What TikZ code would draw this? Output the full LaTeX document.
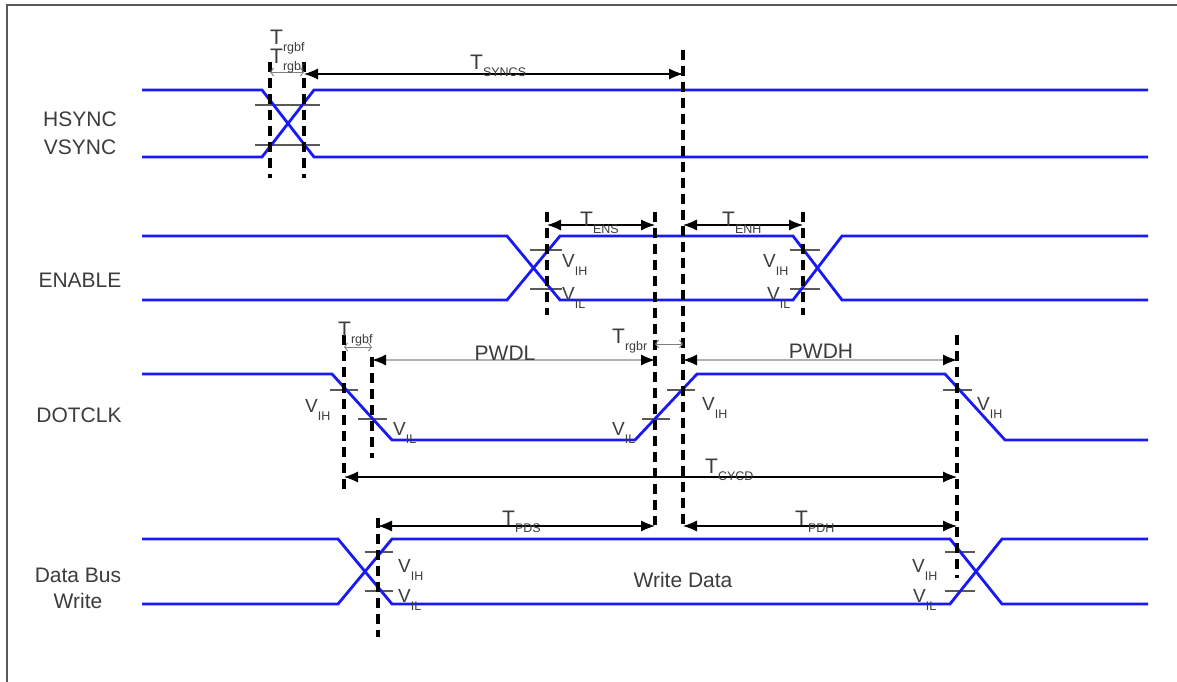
\documentclass[tikz,border=0pt]{standalone}
\usepackage{fontspec}
\setmainfont{Liberation Sans}
\usetikzlibrary{arrows.meta}
\definecolor{sig}{RGB}{25,25,245}
\definecolor{txt}{RGB}{60,60,60}
\newcommand\Vlab[1]{\fontsize{19}{19}\selectfont V\raisebox{-8pt}{\fontsize{12.5}{12.5}\selectfont #1}}
\newcommand\Tlab[1]{\fontsize{21}{21}\selectfont T\raisebox{-7pt}{\fontsize{12.5}{12.5}\selectfont #1}}
\begin{document}
\begin{tikzpicture}[x=1pt,y=-1pt,
  sigline/.style={draw=sig, line width=2.8pt, line join=miter},
  vdash/.style={draw=black, line width=3.2pt, dash pattern=on 10pt off 6pt},
  tick/.style={draw=gray!70!black, line width=1.2pt},
  dim/.style={draw=black, line width=1.1pt, {Latex[length=14pt,width=11pt]}-{Latex[length=14pt,width=11pt]}},
  dimg/.style={draw=gray!60, line width=1.3pt, {Latex[length=14pt,width=11pt,color=black]}-{Latex[length=14pt,width=11pt,color=black]}},
  smallarr/.style={draw=gray, line width=0.9pt, {Straight Barb[length=3pt,width=8pt]}-{Straight Barb[length=3pt,width=8pt]}},
  lbl/.style={anchor=base west, inner sep=0pt, text=txt},
  cname/.style={anchor=base, inner sep=0pt, text=txt, font=\fontsize{21}{21}\selectfont}]
\useasboundingbox (0,0) rectangle (1177,682);
% frame
\draw[gray!70!black, line width=2pt] (7,682) -- (7,5) -- (1177,5);

% signal names
\node[cname] (hs) at (80,127) {HSYNC};
\node[cname] (vs) at (80,154) {VSYNC};
\node[cname] (en) at (80,287) {ENABLE};
\node[cname] (dc) at (79,422) {DOTCLK};
\node[cname] (db) at (78,582) {Data Bus};
\node[cname] (wr) at (78,608) {Write};

% threshold ticks
\draw[tick] (255,105) -- (320,105);
\draw[tick] (255,145) -- (320,145);
\draw[tick] (530,250) -- (562,250);
\draw[tick] (530,289) -- (562,289);
\draw[tick] (790,250) -- (820,250);
\draw[tick] (790,289) -- (820,289);
\draw[tick] (330,390) -- (358,390);
\draw[tick] (358,419) -- (387,419);
\draw[tick] (642,419) -- (670,419);
\draw[tick] (667,390) -- (695,390);
\draw[tick] (943,390) -- (972,390);
\draw[tick] (365,552) -- (393,552);
\draw[tick] (365,591) -- (393,591);
\draw[tick] (945,552) -- (975,552);
\draw[tick] (945,591) -- (975,591);

% signals
\draw[sigline] (142,90) -- (262,90) -- (314,157) -- (1148,157);
\draw[sigline] (142,157) -- (262,157) -- (314,90) -- (1148,90);
\draw[sigline] (142,236) -- (507,236) -- (560,300) -- (793,300) -- (842,236) -- (1148,236);
\draw[sigline] (142,300) -- (507,300) -- (560,236) -- (793,236) -- (842,300) -- (1148,300);
\draw[sigline] (142,374) -- (332,374) -- (392,440) -- (635,440) -- (697,374) -- (945,374) -- (1005,440) -- (1148,440);
\draw[sigline] (142,539) -- (338,539) -- (392,604) -- (950,604) -- (1002,539) -- (1148,539);
\draw[sigline] (142,604) -- (338,604) -- (392,539) -- (950,539) -- (1002,604) -- (1148,604);

% dashed reference lines
\draw[vdash] (270,62) -- (270,178);
\draw[vdash] (304,62) -- (304,178);
\draw[vdash] (683,50) -- (683,525);
\draw[vdash] (655,212) -- (655,525);
\draw[vdash] (547,212) -- (547,315);
\draw[vdash] (803,212) -- (803,315);
\draw[vdash] (344,335) -- (344,490);
\draw[vdash] (372,357) -- (372,458);
\draw[vdash] (957,335) -- (957,578);
\draw[vdash] (378,518) -- (378,637);

% dimension coordinates
\coordinate (s1) at (270,72); \coordinate (s2) at (304,72);
\coordinate (y1) at (304,74); \coordinate (y2) at (683,74);
\coordinate (e1) at (547,225); \coordinate (e2) at (655,225);
\coordinate (e3) at (683,225); \coordinate (e4) at (803,225);
\coordinate (r1) at (344,347); \coordinate (r2) at (372,347);
\coordinate (r3) at (655,344); \coordinate (r4) at (683,344);
\coordinate (p1) at (372,360); \coordinate (p2) at (655,360);
\coordinate (p3) at (683,360); \coordinate (p4) at (957,360);
\coordinate (c1) at (344,477); \coordinate (c2) at (957,477);
\coordinate (d1) at (378,526); \coordinate (d2) at (655,526);
\coordinate (d3) at (683,526); \coordinate (d4) at (957,526);

\draw[smallarr] (s1) -- (s2);
\draw[dim] (y1) -- (y2);
\draw[dim] (e1) -- (e2);
\draw[dim] (e3) -- (e4);
\draw[smallarr] (r1) -- (r2);
\draw[smallarr] (r3) -- (r4);
\draw[dimg] (p1) -- (p2);
\draw[dimg] (p3) -- (p4);
\draw[dim] (c1) -- (c2);
\draw[dim] (d1) -- (d2);
\draw[dim] (d3) -- (d4);

% timing labels
\node[lbl] (t1) at (270,45) {\Tlab{rgbf}};
\node[lbl] (t2) at (270,64) {\Tlab{rgbr}};
\node[lbl] (t3) at (470,70) {\Tlab{SYNCS}};
\node[lbl] (t4) at (580,226) {\Tlab{ENS}};
\node[lbl] (t5) at (722,226) {\Tlab{ENH}};
\node[lbl] (t6) at (338,336) {\Tlab{rgbf}};
\node[lbl] (t7) at (612,343) {\Tlab{rgbr}};
\node[lbl] (t8) at (705,473) {\Tlab{CYCD}};
\node[lbl] (t9) at (502,525) {\Tlab{PDS}};
\node[lbl] (t10) at (795,525) {\Tlab{PDH}};
\node[cname] (pwdl) at (505,360) {PWDL};
\node[cname] (pwdh) at (821,358) {PWDH};
\node[cname] (wd) at (683,587) {Write Data};

% threshold labels
\node[lbl] (v1) at (562,267) {\Vlab{IH}};
\node[lbl] (v2) at (562,300) {\Vlab{IL}};
\node[lbl] (v3) at (763,267) {\Vlab{IH}};
\node[lbl] (v4) at (767,300) {\Vlab{IL}};
\node[lbl] (v5) at (305,412) {\Vlab{IH}};
\node[lbl] (v6) at (393,435) {\Vlab{IL}};
\node[lbl] (v7) at (612,435) {\Vlab{IL}};
\node[lbl] (v8) at (702,410) {\Vlab{IH}};
\node[lbl] (v9) at (977,410) {\Vlab{IH}};
\node[lbl] (v10) at (398,572) {\Vlab{IH}};
\node[lbl] (v11) at (398,602) {\Vlab{IL}};
\node[lbl] (v12) at (912,572) {\Vlab{IH}};
\node[lbl] (v13) at (913,602) {\Vlab{IL}};
\end{tikzpicture}
\end{document}
